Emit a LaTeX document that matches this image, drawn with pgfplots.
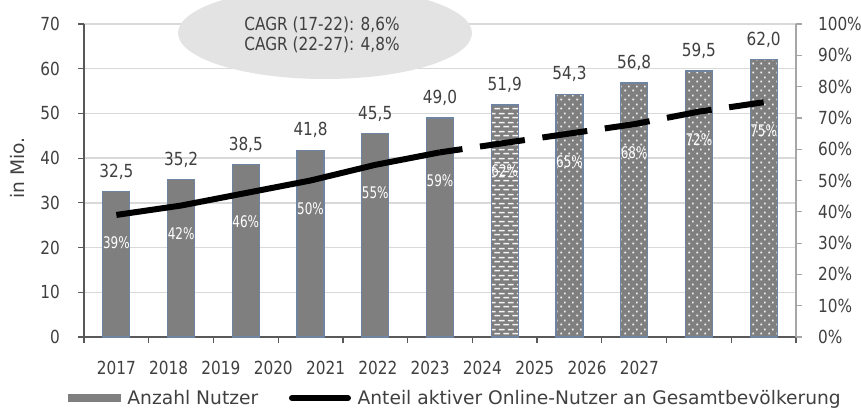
\documentclass[border=0pt]{standalone}
\usepackage{fontspec}
\setmainfont{DejaVu Sans}
\newfontfamily\cond{DejaVu Sans}[FakeStretch=0.85]
\newfontfamily\condp{DejaVu Sans}[FakeStretch=0.75]
\usepackage{pgfplots}
\pgfplotsset{compat=1.18}
\usetikzlibrary{patterns,patterns.meta}
\pgfplotsset{/pgf/number format/assume math mode=true}

\definecolor{txt}{HTML}{404040}
\definecolor{barg}{HTML}{7F7F7F}
\definecolor{bare}{HTML}{6E84A0}
\definecolor{gridc}{HTML}{D9D9D9}
\definecolor{axl}{HTML}{595959}
\definecolor{axr}{HTML}{A6A6A6}
\definecolor{ell}{HTML}{E3E3E3}

\pgfdeclarepattern{
  name=wdots, type=uncolored,
  bottom left={\pgfpoint{0pt}{0pt}},
  top right={\pgfpoint{6pt}{6.4pt}},
  tile size={\pgfpoint{6pt}{6.4pt}},
  code={
    \pgfpathrectangle{\pgfpoint{0.4pt}{0.5pt}}{\pgfpoint{1.3pt}{1.3pt}}
    \pgfpathrectangle{\pgfpoint{3.4pt}{3.7pt}}{\pgfpoint{1.3pt}{1.3pt}}
    \pgfusepath{fill}
  }
}
\pgfdeclarepattern{
  name=wdash, type=uncolored,
  bottom left={\pgfpoint{0pt}{0pt}},
  top right={\pgfpoint{7pt}{6.4pt}},
  tile size={\pgfpoint{7pt}{6.4pt}},
  code={
    \pgfpathrectangle{\pgfpoint{0.25pt}{0.5pt}}{\pgfpoint{4.5pt}{1.2pt}}
    \pgfpathrectangle{\pgfpoint{3.75pt}{3.7pt}}{\pgfpoint{3.25pt}{1.2pt}}
    \pgfpathrectangle{\pgfpoint{0pt}{3.7pt}}{\pgfpoint{1.25pt}{1.2pt}}
    \pgfusepath{fill}
  }
}

\begin{document}
\begin{tikzpicture}
\begin{axis}[
  at={(63pt,56.25pt)}, anchor=south west,
  scale only axis, width=534pt, height=234.75pt,
  xmin=-0.5, xmax=10.5, ymin=0, ymax=70,
  axis y line*=left, axis x line*=bottom,
  axis line style={-, draw=axl, line width=0.9pt},
  tick align=outside, major tick length=4.5pt,
  tick style={draw=axl, line width=0.9pt},
  ytick={0,10,...,70},
  ymajorgrids, grid style={draw=gridc, line width=1.1pt},
  xtick={-0.5,0.5,...,10.5}, xticklabels={},
  extra x ticks={0,0.808,1.616,2.424,3.232,4.04,4.848,5.656,6.464,7.272,8.08},
  extra x tick labels={2017,2018,2019,2020,2021,2022,2023,2024,2025,2026,2027},
  extra x tick style={major tick length=0pt, grid=none},
  ticklabel style={font=\cond\fontsize{13.5}{16}\selectfont, text=txt},
  xticklabel style={yshift=-14.5pt},
  yticklabel style={xshift=-10pt},
  clip=false,
  ylabel={in Mio.},
  every axis y label/.style={at={(axis description cs:-0.0927,0.54)}, rotate=90, anchor=center, font=\fontsize{14}{16}\selectfont, text=txt},
  ybar, bar width=20.25pt,
  nodes near coords={\pgfmathprintnumber[fixed,fixed zerofill,precision=1,use comma]{\pgfplotspointmeta}},
  every node near coord/.append style={font=\cond\fontsize{13.5}{16}\selectfont, text=txt, anchor=base, yshift=10.9pt},
]
\addplot[fill=barg, draw=bare, line width=0.9pt, bar shift=0pt] coordinates {(0,32.5)(1,35.2)(2,38.5)(3,41.8)(4,45.5)(5,49.0)};
\addplot[preaction={fill=barg}, pattern=wdash, pattern color=white!92!gray, draw=bare, line width=0.9pt, bar shift=0pt] coordinates {(6,51.9)};
\addplot[preaction={fill=barg}, pattern=wdots, pattern color=white!92!gray, draw=bare, line width=0.9pt, bar shift=0pt] coordinates {(7,54.3)(8,56.8)(9,59.5)(10,62.0)};
\end{axis}

\begin{axis}[
  at={(63pt,56.25pt)}, anchor=south west,
  scale only axis, width=534pt, height=234.75pt,
  xmin=-0.5, xmax=10.5, ymin=0, ymax=100,
  axis x line=none, axis y line*=right,
  axis line style={-, draw=axr, line width=0.9pt},
  tick align=outside, major tick length=4.5pt,
  tick style={draw=axr, line width=0.9pt},
  ytick={0,10,...,100},
  yticklabel={\pgfmathprintnumber{\tick}\%},
  ticklabel style={font=\cond\fontsize{13.5}{16}\selectfont, text=txt},
  yticklabel style={xshift=8.5pt},
  clip=false,
  legend style={at={(axis description cs:-0.0225,-0.195)}, anchor=west, draw=none, fill=none, inner sep=0pt,
    font=\fontsize{14}{16}\selectfont, text=txt,
    /tikz/every odd column/.append style={column sep=3pt},
    /tikz/every even column/.append style={column sep=21pt}},
  legend columns=2, legend cell align=left,
]
\addlegendimage{legend image code/.code={\fill[barg] (0pt,-2.6pt) rectangle (39pt,2.6pt);}}
\addlegendentry{Anzahl Nutzer}
\addplot[black, line width=4.5pt, line join=round,
  legend image code/.code={\draw[black, line width=4.5pt, line cap=round] (2.25pt,0pt) -- (44.25pt,0pt);}]
  coordinates {(0,39)(1,42)(2,46)(3,50)(4,55)(5,59)};
\addlegendentry{Anteil aktiver Online-Nutzer an Gesamtbevölkerung}
\addplot[black, line width=4.5pt, line join=round, dash pattern=on 34pt off 13.3pt, dash phase=17pt, forget plot]
  coordinates {(5,59)(6,62)(7,65)(8,68)(9,72)(10,75)};
\addplot[draw=none, mark=none, forget plot, point meta=explicit,
  nodes near coords={\pgfmathprintnumber{\pgfplotspointmeta}\%},
  every node near coord/.append style={font=\condp\fontsize{12}{14}\selectfont, text=white, anchor=center}]
  coordinates {(0,30)[39] (1,33)[42] (2,37)[46] (3,41)[50] (4,46)[55] (5,50)[59] (6,53)[62] (7,56)[65] (8,59)[68] (9,63)[72] (10,66)[75]};
\end{axis}

\fill[ell] (243.75pt,284.25pt) ellipse [x radius=110.25pt, y radius=34.5pt];
\node[align=center, font=\cond\fontsize{13.5}{15}\selectfont, text=txt] at (241.5pt,282.75pt) {CAGR (17-22): 8,6\%\\CAGR (22-27): 4,8\%};

\pgfresetboundingbox
\useasboundingbox (0,0) rectangle (645.75pt,309pt);
\end{tikzpicture}
\end{document}
